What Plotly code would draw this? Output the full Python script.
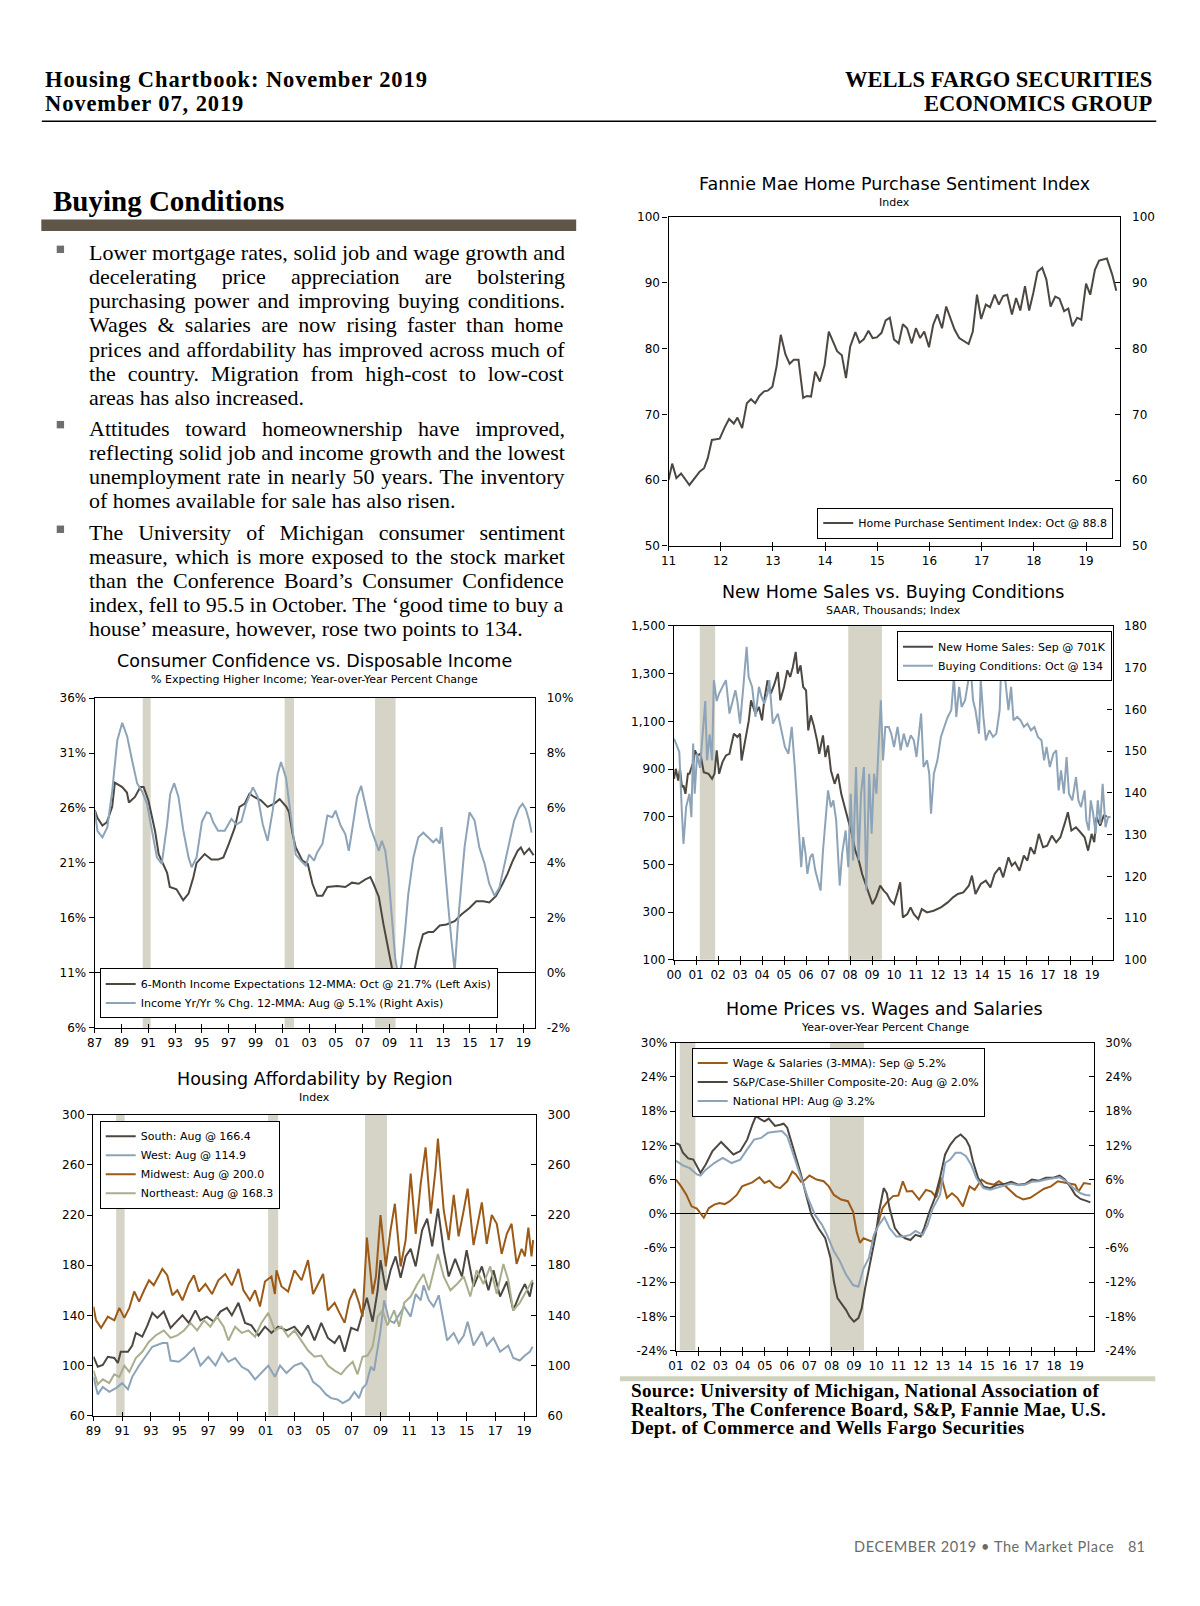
import plotly.graph_objects as go

# ======================= DATA =======================
RECESSIONS = [(1990.58, 1991.17), (2001.17, 2001.87), (2007.92, 2009.45)]

# --- Consumer Confidence vs. Disposable Income ---
C1_NAMES = ["6-Month Income Expectations 12-MMA: Oct @ 21.7% (Left Axis)",
            "Income Yr/Yr % Chg. 12-MMA: Aug @ 5.1% (Right Axis)"]
INCOME_EXPECT = [(1987.0,25.8),(1987.2,25.1),(1987.57,24.4),(1987.9,24.7),(1988.3,26.1),(1988.5,28.3),
    (1989.05,27.9),(1989.4,27.4),(1989.55,26.5),(1990.0,27.0),(1990.4,27.9),(1990.65,27.9),(1991.0,26.7),
    (1991.5,23.9),(1991.77,21.8),(1992.1,20.9),(1992.4,20.1),(1992.6,18.8),(1993.1,18.6),(1993.6,17.6),
    (1994.0,18.2),(1994.36,19.7),(1994.6,21.0),(1995.2,21.8),(1995.7,21.3),(1996.2,21.3),(1996.6,21.5),
    (1997.0,22.7),(1997.45,24.2),(1997.8,26.1),(1998.2,26.4),(1998.55,27.3),(1998.9,27.0),(1999.4,26.7),
    (1999.9,26.1),(2000.4,26.4),(2000.8,26.8),(2001.3,26.1),(2001.5,25.6),(2001.77,23.6),(2002.0,22.4),
    (2002.5,21.2),(2002.9,20.9),(2003.25,19.1),(2003.6,18.0),(2004.0,18.0),(2004.36,18.8),(2005.1,18.9),
    (2005.7,18.8),(2006.2,19.2),(2006.7,19.1),(2007.2,19.5),(2007.57,19.7),(2007.8,19.1),(2008.2,17.9),
    (2008.55,15.4),(2008.9,13.0),(2009.17,11.5),(2009.5,10.4),(2009.8,9.95),(2010.16,10.7),(2010.5,10.9),
    (2010.8,10.9),(2011.15,13.0),(2011.5,14.5),(2011.9,14.7),(2012.26,14.7),(2012.75,15.3),(2013.25,15.4),
    (2013.86,15.7),(2014.36,16.3),(2014.97,16.9),(2015.47,17.5),(2016.0,17.5),(2016.45,17.4),(2016.95,18.0),
    (2017.44,19.1),(2017.8,20.0),(2018.2,21.2),(2018.56,22.1),(2018.8,22.4),(2019.05,21.8),(2019.42,22.3),
    (2019.67,21.8),(2019.75,21.7)]
INCOME_YOY = [(1987.0,5.9),(1987.2,5.17),(1987.57,4.93),(1987.94,5.3),(1988.3,6.6),(1988.68,8.46),(1989.05,9.1),
    (1989.42,8.6),(1989.8,7.7),(1990.16,6.9),(1990.53,6.6),(1990.9,6.15),(1991.27,5.17),(1991.64,4.2),
    (1992.0,3.96),(1992.4,5.4),(1992.63,6.5),(1992.93,6.9),(1993.25,6.4),(1993.6,5.2),(1994.0,4.2),
    (1994.23,3.84),(1994.6,4.2),(1995.0,5.5),(1995.35,5.84),(1995.6,5.8),(1995.84,5.48),(1996.2,5.17),
    (1996.7,5.17),(1997.2,5.6),(1997.57,5.4),(1997.94,5.5),(1998.3,6.15),(1998.8,6.75),(1999.17,6.4),
    (1999.54,5.4),(1999.9,4.8),(2000.28,5.9),(2000.65,7.24),(2000.9,7.67),(2001.27,7.1),(2001.64,5.66),
    (2002.0,4.3),(2002.38,4.08),(2002.75,3.9),(2003.0,4.3),(2003.37,4.08),(2003.6,4.38),(2004.0,4.7),
    (2004.36,5.72),(2004.73,5.66),(2004.97,5.9),(2005.35,5.36),(2005.7,5.05),(2005.96,4.44),(2006.2,5.17),
    (2006.58,6.4),(2006.88,6.8),(2007.2,6.15),(2007.57,5.3),(2007.94,4.8),(2008.2,4.44),(2008.43,4.8),
    (2008.68,4.44),(2008.93,3.47),(2009.17,1.9),(2009.42,0.55),(2009.67,-0.18),(2009.9,0.31),(2010.16,1.53),
    (2010.4,2.86),(2010.78,4.2),(2011.15,4.93),(2011.52,5.1),(2011.9,4.93),(2012.26,4.75),(2012.5,4.87),
    (2012.75,4.7),(2012.88,5.3),(2013.1,3.96),(2013.37,2.5),(2013.6,1.28),(2013.86,0.07),(2014.1,1.77),
    (2014.6,4.57),(2014.97,5.84),(2015.35,5.54),(2015.7,4.57),(2016.1,3.96),(2016.45,3.23),(2016.84,2.8),
    (2017.2,3.1),(2017.57,3.96),(2017.94,4.8),(2018.3,5.54),(2018.68,6.0),(2018.93,6.15),(2019.17,5.96),
    (2019.42,5.54),(2019.6,5.1)]
C1_XTICKS = [1987,1989,1991,1993,1995,1997,1999,2001,2003,2005,2007,2009,2011,2013,2015,2017,2019]
C1_XLABELS = ["87","89","91","93","95","97","99","01","03","05","07","09","11","13","15","17","19"]
C1_YL_TICKS = [6,11,16,21,26,31,36]
C1_YL_LABELS = ["6%","11%","16%","21%","26%","31%","36%"]
C1_YR_TICKS = [-2,0,2,4,6,8,10]
C1_YR_LABELS = ["-2%","0%","2%","4%","6%","8%","10%"]

# --- Housing Affordability by Region ---
C2_NAMES = ["South: Aug @ 166.4", "West: Aug @ 114.9", "Midwest: Aug @ 200.0", "Northeast: Aug @ 168.3"]
SOUTH = [(1989.0,107),(1989.3,99),(1989.65,100.5),(1990.0,107),(1990.45,106),(1990.7,102),(1990.9,111),
    (1991.4,111),(1991.7,116),(1991.95,126),(1992.4,123),(1992.76,132),(1993.1,142),(1993.45,138),(1993.9,143),
    (1994.37,130),(1994.7,134),(1995.2,140),(1995.64,134),(1996.1,144),(1996.45,136),(1996.9,139),(1997.37,135),
    (1997.84,143),(1998.3,146),(1998.64,140),(1999.1,150),(1999.56,134),(2000.0,132),(2000.5,124),(2000.95,131),
    (2001.4,126),(2001.87,131),(2002.45,128),(2003.0,131),(2003.5,124),(2003.95,132),(2004.4,120),(2004.87,134),
    (2005.33,122),(2005.8,118),(2006.14,124),(2006.5,111),(2006.95,130),(2007.4,128),(2007.75,142),(2008.05,154),
    (2008.45,135),(2008.8,160),(2009.0,184),(2009.37,160),(2009.7,176),(2010.05,187),(2010.4,170),(2010.75,187),
    (2011.1,193),(2011.45,179),(2011.9,208),(2012.25,217),(2012.6,195),(2013.0,225),(2013.4,192),(2013.75,171),
    (2014.2,185),(2014.67,171),(2015.0,192),(2015.48,163),(2016.06,179),(2016.52,160),(2016.87,176),(2017.33,155),
    (2017.8,167),(2018.25,144),(2018.7,157),(2019.06,165),(2019.4,155),(2019.6,166.4)]
WEST = [(1989.0,91),(1989.3,77),(1989.65,83),(1990.1,79),(1990.57,82),(1991.0,86),(1991.4,81),(1991.7,91),
    (1992.18,100),(1992.64,108),(1993.1,115),(1993.8,118),(1994.14,118),(1994.37,104),(1994.95,103),(1995.4,107),
    (1996.0,114),(1996.45,100),(1997.0,107),(1997.5,100),(1997.95,110),(1998.4,103),(1998.87,106),(1999.33,99),
    (1999.8,96),(2000.26,89),(2000.7,94),(2001.18,100),(2001.64,91),(2002.0,100),(2002.45,94),(2003.0,100),
    (2003.5,102),(2003.95,96),(2004.3,87),(2004.76,83),(2005.2,77),(2005.56,74),(2006.0,73),(2006.37,70),
    (2006.83,73),(2007.18,79),(2007.5,74),(2007.75,82),(2008.0,85),(2008.33,99),(2008.55,96),(2008.8,115),
    (2009.0,128),(2009.25,152),(2009.6,136),(2009.95,134),(2010.3,140),(2010.65,147),(2011.1,139),(2011.45,157),
    (2011.8,152),(2012.0,164),(2012.37,152),(2012.7,147),(2013.06,156),(2013.4,136),(2013.64,120),(2014.1,126),
    (2014.44,118),(2014.8,124),(2015.07,135),(2015.48,116),(2016.06,127),(2016.4,116),(2016.87,122),(2017.33,111),
    (2017.9,116),(2018.25,106),(2018.7,104),(2019.06,108),(2019.4,111),(2019.6,114.9)]
MIDWEST = [(1989.0,147),(1989.18,136),(1989.53,130),(1990.0,139),(1990.45,136),(1990.8,146),(1991.15,138),
    (1991.5,146),(1991.84,159),(1992.18,151),(1992.53,160),(1992.87,168),(1993.2,164),(1993.8,177),(1994.14,172),
    (1994.5,156),(1994.84,160),(1995.2,152),(1995.64,165),(1996.0,172),(1996.34,159),(1996.8,165),(1997.26,157),
    (1997.7,168),(1998.18,173),(1998.64,164),(1999.1,177),(1999.45,160),(1999.9,152),(2000.26,160),(2000.6,147),
    (2000.95,167),(2001.4,171),(2001.64,157),(2001.75,176),(2002.1,163),(2002.56,159),(2003.0,176),(2003.5,168),
    (2003.95,184),(2004.3,157),(2004.76,168),(2005.0,173),(2005.33,144),(2005.8,150),(2006.14,142),(2006.5,134),
    (2006.83,152),(2007.18,161),(2007.5,150),(2007.75,139),(2008.05,202),(2008.45,157),(2008.68,171),(2009.0,220),
    (2009.37,179),(2009.7,208),(2010.0,229),(2010.4,179),(2010.75,200),(2011.1,253),(2011.45,205),(2011.8,245),
    (2012.14,274),(2012.5,221),(2012.83,256),(2013.0,281),(2013.4,224),(2013.75,200),(2014.1,236),(2014.44,203),
    (2014.8,224),(2015.07,241),(2015.48,196),(2016.06,230),(2016.4,197),(2016.75,220),(2017.1,213),(2017.44,189),
    (2017.8,205),(2018.13,213),(2018.48,181),(2018.83,193),(2019.06,187),(2019.3,210),(2019.52,187),(2019.63,200)]
NORTHEAST = [(1989.0,96),(1989.3,85),(1989.65,89),(1990.1,86),(1990.45,93),(1990.8,91),(1991.15,100),
    (1991.5,95),(1991.95,106),(1992.4,111),(1992.87,119),(1993.33,124),(1993.9,128),(1994.37,122),(1994.84,124),
    (1995.3,128),(1995.76,134),(1996.22,128),(1996.7,136),(1997.14,131),(1997.6,139),(1998.07,131),(1998.4,120),
    (1998.87,131),(1999.33,126),(1999.8,128),(2000.26,123),(2000.7,134),(2001.18,142),(2001.64,128),(2002.1,131),
    (2002.56,123),(2003.0,128),(2003.5,120),(2003.95,112),(2004.4,107),(2004.87,108),(2005.33,100),(2005.8,96),
    (2006.25,93),(2006.6,98),(2007.06,103),(2007.4,93),(2007.75,107),(2008.1,108),(2008.45,115),(2008.8,139),
    (2009.14,144),(2009.48,132),(2009.95,144),(2010.3,131),(2010.65,150),(2011.1,155),(2011.56,165),(2012.0,173),
    (2012.37,160),(2013.0,189),(2013.4,171),(2013.87,160),(2014.33,165),(2014.8,171),(2015.25,155),(2015.7,176),
    (2016.17,165),(2016.64,179),(2017.1,157),(2017.56,181),(2017.9,168),(2018.25,144),(2018.7,150),(2019.06,157),
    (2019.36,163),(2019.6,168.3)]
C2_XTICKS = [1989,1991,1993,1995,1997,1999,2001,2003,2005,2007,2009,2011,2013,2015,2017,2019]
C2_XLABELS = ["89","91","93","95","97","99","01","03","05","07","09","11","13","15","17","19"]
C2_YTICKS = [60,100,140,180,220,260,300]
C2_YLABELS = ["60","100","140","180","220","260","300"]

# --- Fannie Mae Home Purchase Sentiment Index ---
C3_NAMES = ["Home Purchase Sentiment Index: Oct @ 88.8"]
HPSI = [(2011.0,60.0),(2011.07,62.5),(2011.15,60.3),(2011.24,61.0),(2011.4,59.25),(2011.6,61.3),(2011.68,61.8),
    (2011.75,63.3),(2011.83,66.1),(2011.98,66.3),(2012.08,68.1),(2012.16,69.3),(2012.25,68.6),(2012.32,69.5),
    (2012.41,67.9),(2012.5,71.7),(2012.58,72.3),(2012.66,71.7),(2012.74,72.8),(2012.83,73.5),(2012.9,73.6),
    (2012.99,74.2),(2013.07,77.3),(2013.15,82.1),(2013.24,79.1),(2013.32,77.7),(2013.4,78.3),(2013.49,78.3),
    (2013.58,72.5),(2013.65,72.8),(2013.73,72.7),(2013.81,76.5),(2013.9,75.0),(2013.99,77.5),(2014.07,82.6),
    (2014.15,81.1),(2014.23,79.6),(2014.32,79.0),(2014.4,75.5),(2014.48,80.3),(2014.58,82.5),(2014.66,80.9),
    (2014.74,81.4),(2014.83,82.7),(2014.91,81.6),(2014.99,81.7),(2015.08,82.4),(2015.16,84.3),(2015.24,84.7),
    (2015.32,81.4),(2015.41,80.8),(2015.49,83.7),(2015.57,83.1),(2015.66,80.8),(2015.74,83.1),(2015.82,81.6),
    (2015.9,82.6),(2015.99,80.2),(2016.07,83.6),(2016.15,85.2),(2016.24,83.1),(2016.32,86.4),(2016.4,84.7),
    (2016.48,82.9),(2016.57,81.6),(2016.75,80.7),(2016.83,82.6),(2016.91,88.2),(2016.99,84.5),(2017.08,86.7),
    (2017.16,86.3),(2017.25,88.2),(2017.33,86.7),(2017.41,88.0),(2017.49,88.2),(2017.58,85.2),(2017.66,87.7),
    (2017.74,85.8),(2017.83,89.5),(2017.91,85.8),(2017.99,88.5),(2018.07,91.7),(2018.16,92.3),(2018.24,90.5),
    (2018.32,86.4),(2018.41,87.9),(2018.49,87.6),(2018.58,85.7),(2018.66,86.1),(2018.74,83.4),(2018.83,84.7),
    (2018.91,84.4),(2019.0,89.9),(2019.08,88.2),(2019.17,92.0),(2019.25,93.4),(2019.4,93.7),(2019.5,91.3),
    (2019.58,88.8)]
C3_XTICKS = [2011,2012,2013,2014,2015,2016,2017,2018,2019]
C3_XLABELS = ["11","12","13","14","15","16","17","18","19"]
C3_YTICKS = [50,60,70,80,90,100]
C3_YLABELS = ["50","60","70","80","90","100"]

# --- New Home Sales vs. Buying Conditions ---
C4_NAMES = ["New Home Sales: Sep @ 701K", "Buying Conditions: Oct @ 134"]
NEW_HOME_SALES = [(2000.0,859),(2000.08,901),(2000.19,852),(2000.27,901),(2000.36,824),(2000.43,831),
    (2000.52,796),(2000.63,880),(2000.7,880),(2000.83,922),(2000.9,936),(2000.95,978),(2001.06,957),(2001.2,964),
    (2001.35,887),(2001.57,880),(2001.73,859),(2001.84,880),(2001.94,978),(2002.05,880),(2002.2,929),(2002.36,957),
    (2002.52,964),(2002.6,999),(2002.72,1048),(2002.88,1034),(2003.0,1048),(2003.07,936),(2003.23,1013),
    (2003.4,1104),(2003.5,1188),(2003.7,1132),(2003.86,1160),(2004.0,1104),(2004.1,1188),(2004.25,1272),
    (2004.4,1216),(2004.57,1258),(2004.72,1307),(2004.83,1188),(2005.0,1244),(2005.15,1314),(2005.28,1286),
    (2005.4,1328),(2005.53,1391),(2005.62,1300),(2005.75,1335),(2005.87,1244),(2006.0,1230),(2006.1,1062),
    (2006.22,1125),(2006.35,1083),(2006.5,1020),(2006.6,964),(2006.77,1041),(2006.88,950),(2007.0,999),
    (2007.13,894),(2007.3,838),(2007.45,880),(2007.6,796),(2007.76,740),(2007.92,684),(2008.08,628),(2008.24,558),
    (2008.4,516),(2008.55,460),(2008.7,418),(2008.87,376),(2009.02,334),(2009.18,362),(2009.37,411),(2009.53,390),
    (2009.68,376),(2009.84,348),(2010.0,334),(2010.16,383),(2010.28,425),(2010.4,278),(2010.6,292),(2010.75,320),
    (2010.9,292),(2011.1,271),(2011.26,313),(2011.5,299),(2011.8,306),(2012.13,320),(2012.44,341),(2012.68,362),
    (2012.9,376),(2013.15,383),(2013.4,411),(2013.54,453),(2013.7,376),(2013.94,418),(2014.17,432),(2014.38,404),
    (2014.57,460),(2014.8,488),(2014.96,446),(2015.2,530),(2015.35,495),(2015.5,509),(2015.7,474),(2015.9,537),
    (2016.06,516),(2016.2,572),(2016.38,544),(2016.58,628),(2016.77,572),(2016.96,579),(2017.17,621),(2017.37,593),
    (2017.56,614),(2017.75,670),(2017.9,719),(2018.06,642),(2018.27,656),(2018.47,635),(2018.66,614),(2018.82,558),
    (2018.98,628),(2019.1,593),(2019.2,698),(2019.37,663),(2019.53,705),(2019.67,701)]
BUYING_CONDITIONS = [(2000.0,153),(2000.16,151),(2000.24,149.8),(2000.36,135),(2000.43,127.8),(2000.55,136.6),
    (2000.7,139.8),(2000.79,134.2),(2000.87,151.8),(2000.94,139.8),(2001.05,149.4),(2001.18,146),(2001.42,162),
    (2001.5,147.8),(2001.62,154),(2001.73,147.8),(2001.81,167),(2001.94,162),(2002.05,163.8),(2002.2,165.4),
    (2002.36,167),(2002.52,159),(2002.68,162),(2002.79,164.6),(2002.88,162),(2003.0,156.6),(2003.15,165.4),
    (2003.3,175),(2003.39,167.8),(2003.55,165.4),(2003.7,158.2),(2003.86,165.4),(2003.98,163),(2004.1,161.4),
    (2004.25,163.8),(2004.33,167),(2004.49,156.6),(2004.72,159),(2004.88,155),(2005.04,151),(2005.2,149.4),
    (2005.35,155.8),(2005.5,145.4),(2005.59,137.4),(2005.67,129.4),(2005.78,122.2),(2005.87,129.4),(2005.98,125.4),
    (2006.06,120.6),(2006.19,124.6),(2006.3,125.4),(2006.42,121.4),(2006.54,119),(2006.66,116.6),(2006.77,126.2),
    (2006.88,134.2),(2007.0,140.6),(2007.13,136.6),(2007.24,138.2),(2007.37,133.4),(2007.53,117.8),(2007.64,125.4),
    (2007.8,131),(2007.92,122.2),(2008.03,139.8),(2008.14,123.8),(2008.27,146.2),(2008.39,123.8),(2008.5,139.8),
    (2008.63,146.2),(2008.74,116.6),(2008.87,144.6),(2008.98,130.2),(2009.09,144.6),(2009.2,139.8),(2009.28,149.4),
    (2009.4,162.2),(2009.5,147.8),(2009.6,155.8),(2009.76,155.8),(2009.87,154.2),(2010.0,151),(2010.16,155.8),
    (2010.3,150.2),(2010.44,154.2),(2010.6,151),(2010.76,153.8),(2010.9,152.6),(2011.02,148.6),(2011.23,159),
    (2011.34,146.2),(2011.5,147.8),(2011.6,144.6),(2011.68,135),(2011.81,144.6),(2011.97,147.8),(2012.13,153.4),
    (2012.28,155.8),(2012.44,158.2),(2012.6,159.8),(2012.72,167.8),(2012.83,158.2),(2012.96,165.4),(2013.07,160.6),
    (2013.23,162.2),(2013.4,167.8),(2013.46,171.8),(2013.59,162.2),(2013.7,159.8),(2013.86,154.2),(2013.94,167),
    (2014.06,158.2),(2014.17,152.6),(2014.33,155),(2014.5,153.4),(2014.65,154.2),(2014.8,159.8),(2014.88,171.8),
    (2015.04,167.8),(2015.2,159.8),(2015.32,165.4),(2015.43,157.4),(2015.6,158.2),(2015.75,157.4),(2015.9,155.8),
    (2016.06,156.6),(2016.22,155),(2016.38,155.8),(2016.54,153.4),(2016.7,152.6),(2016.82,147.8),(2016.93,151),
    (2017.08,146.2),(2017.24,149.4),(2017.37,150.2),(2017.48,140.6),(2017.59,145.4),(2017.72,139.8),(2017.84,148.6),
    (2017.95,139.8),(2018.1,138.2),(2018.27,143.8),(2018.38,138.2),(2018.5,136.6),(2018.66,140.6),(2018.74,133.4),
    (2018.85,131),(2018.94,138.2),(2019.05,135),(2019.16,130.2),(2019.26,138.2),(2019.37,132.6),(2019.48,142.2),
    (2019.61,131.8),(2019.73,134.2),(2019.84,134.2)]
C4_XTICKS = [2000,2001,2002,2003,2004,2005,2006,2007,2008,2009,2010,2011,2012,2013,2014,2015,2016,2017,2018,2019]
C4_XLABELS = ["00","01","02","03","04","05","06","07","08","09","10","11","12","13","14","15","16","17","18","19"]
C4_YL_TICKS = [100,300,500,700,900,1100,1300,1500]
C4_YL_LABELS = ["100","300","500","700","900","1,100","1,300","1,500"]
C4_YR_TICKS = [100,110,120,130,140,150,160,170,180]
C4_YR_LABELS = ["100","110","120","130","140","150","160","170","180"]

# --- Home Prices vs. Wages and Salaries ---
C5_NAMES = ["Wage & Salaries (3-MMA): Sep @ 5.2%", "S&P/Case-Shiller Composite-20: Aug @ 2.0%",
            "National HPI: Aug @ 3.2%"]
WAGES = [(2001.0,6.0),(2001.23,4.8),(2001.47,3.3),(2001.7,1.3),(2001.94,0.9),(2002.1,0.1),(2002.25,-0.7),
    (2002.48,1.0),(2002.72,1.6),(2002.95,1.9),(2003.19,1.7),(2003.42,2.2),(2003.73,3.3),(2003.97,4.8),(2004.2,5.1),
    (2004.43,5.5),(2004.75,6.4),(2004.98,5.4),(2005.2,5.8),(2005.45,4.8),(2005.68,4.5),(2006.0,5.7),(2006.23,7.4),
    (2006.39,6.9),(2006.62,5.6),(2006.78,5.9),(2007.0,6.7),(2007.32,6.0),(2007.64,5.7),(2007.87,4.8),(2008.1,3.3),
    (2008.42,2.5),(2008.73,2.2),(2008.96,0.4),(2009.12,-3.1),(2009.27,-5.1),(2009.43,-4.3),(2009.67,-4.6),
    (2009.82,-4.9),(2009.98,-3.1),(2010.13,-1.1),(2010.29,1.0),(2010.52,2.2),(2010.76,3.1),(2011.0,3.2),
    (2011.2,5.7),(2011.38,3.9),(2011.62,4.0),(2011.93,2.5),(2012.24,4.2),(2012.48,3.9),(2012.7,2.9),(2012.94,6.3),
    (2013.18,2.8),(2013.41,3.6),(2013.65,2.8),(2013.9,1.3),(2014.2,4.8),(2014.43,4.2),(2014.74,6.0),(2014.97,5.4),
    (2015.29,5.1),(2015.52,5.7),(2015.75,5.1),(2015.99,4.2),(2016.3,3.1),(2016.61,2.5),(2016.93,2.8),(2017.24,3.6),
    (2017.55,4.4),(2017.86,4.8),(2018.17,5.7),(2018.56,5.4),(2018.95,5.1),(2019.1,3.9),(2019.34,5.4),(2019.66,5.2)]
CASE_SHILLER = [(2001.0,12.4),(2001.16,12.1),(2001.31,10.7),(2001.55,9.7),(2001.78,9.5),(2001.94,8.3),
    (2002.1,7.2),(2002.33,8.6),(2002.64,11.0),(2003.03,12.6),(2003.34,11.3),(2003.58,10.4),(2003.89,11.0),
    (2004.2,13.0),(2004.43,15.6),(2004.59,17.1),(2004.83,16.5),(2004.98,16.2),(2005.17,16.7),(2005.45,15.4),
    (2005.68,15.6),(2005.84,15.8),(2006.0,15.1),(2006.31,11.0),(2006.62,6.9),(2006.85,3.3),(2007.09,-0.2),
    (2007.4,-2.5),(2007.71,-4.3),(2007.95,-7.8),(2008.1,-11.9),(2008.26,-14.8),(2008.49,-16.0),(2008.65,-16.9),
    (2008.8,-18.0),(2009.0,-18.9),(2009.2,-18.3),(2009.35,-16.6),(2009.5,-13.1),(2009.74,-8.4),(2009.98,-3.7),
    (2010.13,0.4),(2010.34,4.5),(2010.48,3.6),(2010.6,1.0),(2010.84,-2.5),(2011.07,-3.7),(2011.3,-4.3),
    (2011.54,-4.6),(2011.77,-3.7),(2012.0,-4.0),(2012.16,-2.5),(2012.4,0.4),(2012.63,2.7),(2012.87,6.3),
    (2013.1,10.4),(2013.33,12.1),(2013.57,13.3),(2013.8,13.9),(2014.04,13.0),(2014.2,11.8),(2014.35,9.2),
    (2014.58,6.3),(2014.82,4.8),(2015.13,4.5),(2015.44,5.1),(2015.75,5.2),(2016.07,5.6),(2016.38,5.1),
    (2016.69,5.2),(2017.0,6.0),(2017.32,5.8),(2017.63,6.3),(2017.94,6.3),(2018.25,6.7),(2018.49,6.0),
    (2018.72,4.8),(2018.96,3.3),(2019.19,2.6),(2019.42,2.3),(2019.63,2.0)]
NATIONAL_HPI = [(2001.0,9.3),(2001.31,8.5),(2001.62,8.0),(2001.94,6.9),(2002.1,6.7),(2002.33,7.7),(2002.72,8.9),
    (2003.1,9.8),(2003.5,8.9),(2003.89,9.5),(2004.2,11.3),(2004.51,13.0),(2004.83,13.3),(2005.14,14.2),
    (2005.45,14.4),(2005.76,14.5),(2006.0,13.6),(2006.31,10.1),(2006.62,6.3),(2006.93,2.8),(2007.25,-0.2),
    (2007.56,-1.9),(2007.79,-3.7),(2008.1,-6.6),(2008.34,-8.1),(2008.65,-10.7),(2008.96,-12.5),(2009.2,-12.8),
    (2009.43,-9.6),(2009.67,-7.8),(2009.9,-3.7),(2010.13,-1.9),(2010.37,-0.6),(2010.6,-2.5),(2010.91,-4.0),
    (2011.23,-4.0),(2011.54,-3.7),(2011.77,-3.0),(2012.09,-3.7),(2012.32,-1.9),(2012.55,1.0),(2012.87,3.3),
    (2013.1,8.9),(2013.33,9.5),(2013.57,10.7),(2013.8,10.7),(2014.04,10.1),(2014.27,8.6),(2014.5,6.3),
    (2014.82,4.5),(2015.13,4.2),(2015.44,4.6),(2015.75,5.0),(2016.07,5.3),(2016.38,5.0),(2016.69,5.1),
    (2017.0,5.6),(2017.32,5.7),(2017.63,6.0),(2017.94,6.2),(2018.25,6.4),(2018.56,5.7),(2018.87,4.5),
    (2019.19,3.6),(2019.42,3.3),(2019.63,3.2)]
C5_XTICKS = [2001,2002,2003,2004,2005,2006,2007,2008,2009,2010,2011,2012,2013,2014,2015,2016,2017,2018,2019]
C5_XLABELS = ["01","02","03","04","05","06","07","08","09","10","11","12","13","14","15","16","17","18","19"]
C5_YTICKS = [-24,-18,-12,-6,0,6,12,18,24,30]
C5_YLABELS = ["-24%","-18%","-12%","-6%","0%","6%","12%","18%","24%","30%"]

# --- Page text ---
HEADER_LEFT = ["Housing Chartbook: November 2019", "November 07, 2019"]
HEADER_RIGHT = ["WELLS FARGO SECURITIES", "ECONOMICS GROUP"]
SECTION_TITLE = "Buying Conditions"
PARAGRAPHS = [
    ["Lower mortgage rates, solid job and wage growth and",
     "decelerating price appreciation are bolstering",
     "purchasing power and improving buying conditions.",
     "Wages & salaries are now rising faster than home",
     "prices and affordability has improved across much of",
     "the country. Migration from high-cost to low-cost",
     "areas has also increased."],
    ["Attitudes toward homeownership have improved,",
     "reflecting solid job and income growth and the lowest",
     "unemployment rate in nearly 50 years. The inventory",
     "of homes available for sale has also risen."],
    ["The University of Michigan consumer sentiment",
     "measure, which is more exposed to the stock market",
     "than the Conference Board\u2019s Consumer Confidence",
     "index, fell to 95.5 in October. The \u2018good time to buy a",
     "house\u2019 measure, however, rose two points to 134."],
]
SOURCE_LINES = ["Source: University of Michigan, National Association of",
                "Realtors, The Conference Board, S&P, Fannie Mae, U.S.",
                "Dept. of Commerce and Wells Fargo Securities"]
FOOTER = "DECEMBER 2019 \u2022 The Market Place"
PAGE_NO = "81"

# ======================= STYLE / LAYOUT =======================
PAGE_W, PAGE_H, BODY_M = 1200, 1606, 8
W, H = PAGE_W - 2 * BODY_M, PAGE_H - 2 * BODY_M
def PX(x): return (x - BODY_M) / W
def PY(y):
    yy = y * 1.0108 - 8.1          # vertical calibration of the page
    return 1 - (yy - BODY_M) / H

DARK = "#4d4741"
BLUE = "#8da3b7"
BROWN = "#9b5a17"
OLIVE = "#a9ae8c"
REC = "#d6d3c7"
SANS = "DejaVu Sans, Verdana, sans-serif"
SERIF = "Liberation Serif, Times New Roman, serif"
TICK_FONT = dict(family=SANS, size=12, color="black")

TIMES_W = {' ':250,'a':444,'b':500,'c':444,'d':500,'e':444,'f':333,'g':500,'h':500,'i':278,'j':278,'k':500,
    'l':278,'m':778,'n':500,'o':500,'p':500,'q':500,'r':333,'s':389,'t':278,'u':500,'v':500,'w':722,'x':500,
    'y':500,'z':444,'A':722,'B':667,'C':667,'D':722,'E':611,'F':556,'G':722,'H':722,'I':333,'J':389,'K':722,
    'L':611,'M':889,'N':722,'O':722,'P':556,'Q':722,'R':667,'S':556,'T':611,'U':722,'V':722,'W':944,'X':722,
    'Y':722,'Z':611,',':250,'.':250,'-':333,'&':778,'\u2019':333,'\u2018':333,':':278}
def text_width(s, size):
    return sum(TIMES_W.get(c, 500) for c in s) * size / 1000.0

fig = go.Figure()
layout = dict(width=W, height=H, margin=dict(l=0, r=0, t=0, b=0), paper_bgcolor="white",
              plot_bgcolor="white", showlegend=True, hovermode=False)
annotations = []
shapes = []

def sfx(n):
    return "" if n == 1 else str(n)

def add_chart(k, box, title, subtitle, xr, xt, xl, ylr, ylt, yll, yrr, yrt, yrl,
              series, legend_pos, legend_anchor="top", zero_left=False, zero_right=False, title_gap=37):
    left, right, top, bottom = box
    xa, xb = 2 * k - 1, 2 * k
    ya, yb = 2 * k - 1, 2 * k
    layout["xaxis" + sfx(xa)] = dict(domain=[PX(left), PX(right)], anchor="y" + sfx(ya), range=xr,
        tickmode="array", tickvals=xt, ticktext=xl, ticks="outside", ticklen=4, tickwidth=1,
        tickcolor="black", showline=True, linecolor="black", linewidth=1.3, mirror=True,
        showgrid=False, zeroline=False, tickfont=TICK_FONT)
    layout["xaxis" + sfx(xb)] = dict(overlaying="x" + sfx(xa), anchor="y" + sfx(ya), side="bottom",
        range=xr, tickmode="array", tickvals=xt, ticks="inside", ticklen=4, tickwidth=1,
        tickcolor="black", showticklabels=False, showline=False, showgrid=False, zeroline=False)
    layout["yaxis" + sfx(ya)] = dict(domain=[PY(bottom), PY(top)], anchor="x" + sfx(xa), range=ylr,
        tickmode="array", tickvals=ylt, ticktext=yll, ticks="outside", ticklen=5, tickwidth=1,
        tickcolor="black", showline=True, linecolor="black", linewidth=1.3, showgrid=False,
        zeroline=zero_left, zerolinecolor="black", zerolinewidth=1.3, tickfont=TICK_FONT)
    layout["yaxis" + sfx(yb)] = dict(overlaying="y" + sfx(ya), side="right", anchor="x" + sfx(xa),
        range=yrr, tickmode="array", tickvals=yrt, ticktext=yrl, ticks="inside", ticklen=5, tickwidth=1,
        ticklabelstandoff=8, tickcolor="black", showline=True, linecolor="black", linewidth=1.3,
        showgrid=False, zeroline=zero_right, zerolinecolor="black", zerolinewidth=1.3, tickfont=TICK_FONT)
    leg = "legend" + sfx(k)
    for name, pts, color, right_axis in series:
        fig.add_trace(go.Scatter(x=[p[0] for p in pts], y=[p[1] for p in pts], mode="lines", name=name,
                                 line=dict(color=color, width=2),
                                 xaxis="x" + sfx(xa), yaxis="y" + sfx(yb if right_axis else ya), legend=leg))
    # empty traces so that the overlay axes are created
    fig.add_trace(go.Scatter(x=[], y=[], xaxis="x" + sfx(xb), yaxis="y" + sfx(ya), showlegend=False))
    fig.add_trace(go.Scatter(x=[], y=[], xaxis="x" + sfx(xa), yaxis="y" + sfx(yb), showlegend=False))
    layout[leg] = dict(x=PX(legend_pos[0]), y=PY(legend_pos[1]), xanchor="left", yanchor=legend_anchor,
        bgcolor="white", bordercolor="black", borderwidth=1, tracegroupgap=0, itemwidth=30,
        traceorder="normal", font=dict(family=SANS, size=11, color="black"))
    for r0, r1 in RECESSIONS:
        if r1 > xr[0] and r0 < xr[1]:
            shapes.append(dict(type="rect", xref="x" + sfx(xa), yref="y" + sfx(ya) + " domain",
                               x0=max(r0, xr[0]), x1=min(r1, xr[1]), y0=0, y1=1, fillcolor=REC,
                               line=dict(width=0), layer="below"))
    cx = (left + right) / 2
    annotations.append(dict(text=title, x=PX(cx), y=PY(top - title_gap), xref="paper", yref="paper",
        showarrow=False, xanchor="center", yanchor="middle", font=dict(family=SANS, size=17.5, color="black")))
    annotations.append(dict(text=subtitle, x=PX(cx), y=PY(top - title_gap + 18.5), xref="paper", yref="paper",
        showarrow=False, xanchor="center", yanchor="middle", font=dict(family=SANS, size=11, color="black")))

add_chart(1, (87.3, 530.7, 697.7, 1026.7), "Consumer Confidence vs. Disposable Income",
          "% Expecting Higher Income; Year-over-Year Percent Change",
          [1987.0, 2019.87], C1_XTICKS, C1_XLABELS, [6, 36], C1_YL_TICKS, C1_YL_LABELS,
          [-2, 10], C1_YR_TICKS, C1_YR_LABELS,
          [(C1_NAMES[0], INCOME_EXPECT, DARK, False), (C1_NAMES[1], INCOME_YOY, BLUE, True)],
          (92.3, 1017.5), legend_anchor="bottom", zero_right=True)
add_chart(2, (86.0, 531.5, 1113.5, 1414), "Housing Affordability by Region", "Index",
          [1989.0, 2019.83], C2_XTICKS, C2_XLABELS, [60, 300], C2_YTICKS, C2_YLABELS,
          [60, 300], C2_YTICKS, C2_YLABELS,
          [(C2_NAMES[0], SOUTH, DARK, False), (C2_NAMES[1], WEST, BLUE, False),
           (C2_NAMES[2], MIDWEST, BROWN, False), (C2_NAMES[3], NORTHEAST, OLIVE, False)],
          (92.3, 1119.5), title_gap=36)
add_chart(3, (665, 1120, 217.7, 545.7), "Fannie Mae Home Purchase Sentiment Index", "Index",
          [2011.0, 2019.66], C3_XTICKS, C3_XLABELS, [50, 100], C3_YTICKS, C3_YLABELS,
          [50, 100], C3_YTICKS, C3_YLABELS,
          [(C3_NAMES[0], HPSI, DARK, False)], (814.7, 538.5), legend_anchor="bottom", title_gap=33)
add_chart(4, (670.5, 1112, 625.7, 959), "New Home Sales vs. Buying Conditions", "SAAR, Thousands; Index",
          [2000.0, 2019.93], C4_XTICKS, C4_XLABELS, [100, 1500], C4_YL_TICKS, C4_YL_LABELS,
          [100, 180], C4_YR_TICKS, C4_YR_LABELS,
          [(C4_NAMES[0], NEW_HOME_SALES, DARK, False), (C4_NAMES[1], BUYING_CONDITIONS, BLUE, True)],
          (895, 631), title_gap=34)
add_chart(5, (672.5, 1093, 1041.7, 1349), "Home Prices vs. Wages and Salaries", "Year-over-Year Percent Change",
          [2001.0, 2019.78], C5_XTICKS, C5_XLABELS, [-24, 30], C5_YTICKS, C5_YLABELS,
          [-24, 30], C5_YTICKS, C5_YLABELS,
          [(C5_NAMES[0], WAGES, BROWN, False), (C5_NAMES[1], CASE_SHILLER, DARK, False),
           (C5_NAMES[2], NATIONAL_HPI, BLUE, False)],
          (688.3, 1046.5), zero_left=True, title_gap=33.5)

# ---- page text ----
def page_text(text, x, y, size, family=SERIF, anchor="left", color="black"):
    annotations.append(dict(text=text, x=PX(x), y=PY(y), xref="paper", yref="paper", showarrow=False,
                            xanchor=anchor, yanchor="middle", font=dict(family=family, size=size, color=color)))

for i, (l, r) in enumerate(zip(HEADER_LEFT, HEADER_RIGHT)):
    yy = 80 + 24.5 * i
    page_text('<b><span style="letter-spacing:0.9px">%s</span></b>' % l, 35, yy, 22.5)
    page_text("<b>%s</b>" % r, 1154, yy, 22.5, anchor="right")
shapes.append(dict(type="line", xref="paper", yref="paper", x0=PX(34), x1=PX(1156), y0=PY(122), y1=PY(122),
                   line=dict(color="black", width=1.5)))

page_text("<b>%s</b>" % SECTION_TITLE, 43, 202, 29)
shapes.append(dict(type="rect", xref="paper", yref="paper", x0=PX(33.5), x1=PX(572), y0=PY(231.5), y1=PY(220),
                   fillcolor="#5f5549", line=dict(width=0)))

BODY_SIZE = 22
BODY_LEFT, BODY_RIGHT = 81.5, 557.5
para_tops = [253.3, 428.3, 532.7]
for p, lines in enumerate(PARAGRAPHS):
    y0 = para_tops[p]
    shapes.append(dict(type="rect", xref="paper", yref="paper", x0=PX(49), x1=PX(56.4),
                       y0=PY(y0 + 0.2), y1=PY(y0 - 7.2), fillcolor="#6e6e6e", line=dict(width=0)))
    for j, line in enumerate(lines):
        yy = y0 + 24.0 * j
        txt = line.replace("&", "&amp;")
        if j < len(lines) - 1:
            nsp = line.count(" ")
            extra = (BODY_RIGHT - BODY_LEFT - text_width(line, BODY_SIZE)) / max(nsp, 1)
            txt = '<span style="word-spacing:%.2fpx">%s</span>' % (extra, txt)
        page_text(txt, BODY_LEFT - 2, yy, BODY_SIZE)

# source block
shapes.append(dict(type="rect", xref="paper", yref="paper", x0=PX(616), x1=PX(1155), y0=PY(1379.5), y1=PY(1374.5),
                   fillcolor="#cfd3bd", line=dict(width=0)))
for i, s in enumerate(SOURCE_LINES):
    page_text('<b><span style="letter-spacing:0.25px">%s</span></b>' % s.replace("&", "&amp;"),
              625, 1389 + 18.4 * i, 19.2)

page_text('<span style="letter-spacing:0.6px">%s</span>' % FOOTER, 1115, 1545, 14.5,
          family="Lato, sans-serif", anchor="right", color="#6b6b6b")
page_text(PAGE_NO, 1147, 1545, 14.5, family="Lato, sans-serif", anchor="right", color="#6b6b6b")

layout["annotations"] = annotations
layout["shapes"] = shapes
fig.update_layout(**layout)

fig.write_html("out.html", config={"displayModeBar": False})
